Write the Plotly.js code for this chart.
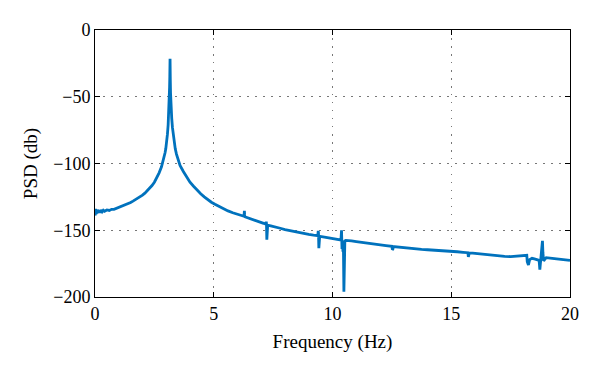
<!DOCTYPE html>
<html>
<head>
<meta charset="utf-8">
<script src="https://cdn.plot.ly/plotly-3.0.1.min.js"></script>
<style>html,body{margin:0;padding:0;background:#fff;}#chart{width:600px;height:374px;}</style>
</head>
<body>
<div id="chart"></div>
<script>
var freq = [0,0.02,0.04,0.06,0.08,0.1,0.13,0.16,0.2,0.25,0.3,0.35,0.4,0.5,0.6,0.7,0.8,0.9,1.0,1.1,1.2,1.3,1.4,1.5,1.6,1.7,1.8,1.9,2.0,2.1,2.2,2.3,2.4,2.5,2.6,2.65,2.7,2.8,2.85,2.9,2.95,2.98,3.02,3.05,3.08,3.10,3.12,3.13,3.14,3.15,3.16,3.165,3.17,3.18,3.19,3.21,3.23,3.26,3.3,3.34,3.38,3.43,3.48,3.58,3.72,3.87,4.0,4.15,4.3,4.45,4.6,4.75,4.9,5.05,5.2,5.4,5.6,5.8,6.0,6.15,6.27,6.28,6.29,6.30,6.31,6.45,6.6,6.8,7.0,7.1,7.2,7.21,7.22,7.235,7.25,7.27,7.4,7.6,7.8,8.0,8.25,8.5,8.75,9.0,9.2,9.38,9.40,9.41,9.425,9.44,9.46,9.6,9.8,10.0,10.2,10.33,10.36,10.38,10.40,10.42,10.44,10.46,10.48,10.50,10.52,10.56,10.6,10.8,11.0,11.25,11.5,11.75,12.0,12.25,12.5,12.52,12.54,12.56,12.75,13.0,13.25,13.5,13.75,14.0,14.25,14.5,14.75,15.0,15.25,15.5,15.7,15.72,15.74,15.76,15.9,16.0,16.25,16.5,16.75,17.0,17.25,17.5,17.75,18.0,18.15,18.18,18.2,18.25,18.3,18.4,18.5,18.6,18.7,18.73,18.75,18.78,18.82,18.84,18.86,18.89,18.95,19.0,19.25,19.5,19.75,20.0];
var psd = [-139,-134,-138,-135,-137.5,-134.5,-137,-135,-136.8,-134.8,-136.2,-135,-135.8,-134.8,-135.2,-134.3,-134.3,-133.6,-133,-132.2,-131.5,-130.7,-130,-129.2,-128.2,-127.2,-126.2,-125,-123.7,-122.2,-120.5,-118.6,-116.5,-114,-111,-109.2,-107,-102.5,-99.5,-96,-92,-89,-84,-78,-71,-64,-56,-50,-43,-35,-21.5,-28,-37,-47,-53,-60,-66,-73,-80,-85,-89,-93,-96.5,-101.5,-106,-110.5,-114,-117,-120,-122.6,-125,-127.2,-129,-130.5,-132,-133.8,-135.5,-136.9,-138,-138.9,-139.5,-138,-135.5,-138.5,-139.9,-140.7,-141.5,-142.8,-144,-144.8,-145.5,-143.5,-145,-157,-151,-146.2,-146.8,-147.5,-148.5,-149.5,-150.5,-151.5,-152.3,-153,-153.6,-154,-150.5,-152,-163.5,-156,-154.6,-155,-155.5,-156,-156.6,-157.2,-156,-150,-164,-158,-166,-163,-196,-170,-158,-157.6,-157.6,-158,-158.5,-159.2,-159.8,-160.4,-161,-161.5,-162,-164.5,-164.2,-162.2,-162.6,-163,-163.5,-164,-164.3,-164.6,-164.8,-165.1,-165.4,-165.8,-166.1,-166.5,-166.8,-170,-169,-167,-167.2,-167.4,-167.8,-168.3,-168.7,-169.2,-169.5,-169.8,-169.5,-168.8,-168.5,-168.8,-173.5,-176,-172,-171,-171.5,-171.8,-172.5,-179.5,-176,-172,-165,-158,-167,-173,-171.5,-170.5,-171,-171.5,-172,-172.5];

var trace = {
  x: freq, y: psd, type: 'scatter', mode: 'lines',
  line: {color: '#0072BD', width: 2.8},
  hoverinfo: 'skip'
};

var tickFont = {family: '"Liberation Serif", "DejaVu Serif", serif', size: 18, color: '#000'};
var titleFont = {family: '"Liberation Serif", "DejaVu Serif", serif', size: 19, color: '#000'};

var layout = {
  width: 600, height: 374,
  margin: {l: 95, r: 30, t: 30, b: 77},
  paper_bgcolor: '#fff', plot_bgcolor: '#fff',
  showlegend: false,
  font: tickFont,
  xaxis: {
    range: [0, 20], tickmode: 'array', tickvals: [0,5,10,15,20],
    ticks: 'inside', ticklen: 5, tickcolor: '#000',
    showline: true, linecolor: '#000', linewidth: 1, mirror: 'ticks',
    showgrid: true, gridcolor: '#777', griddash: '1.5px,6.5px', gridwidth: 1.2,
    zeroline: false,
    tickfont: tickFont,
    title: {text: 'Frequency (Hz)', font: titleFont, standoff: 12}
  },
  yaxis: {
    range: [-200, 0], tickmode: 'array', tickvals: [-200,-150,-100,-50,0],
    ticks: 'inside', ticklen: 5, tickcolor: '#000',
    showline: true, linecolor: '#000', linewidth: 1, mirror: 'ticks',
    showgrid: true, gridcolor: '#777', griddash: '1.5px,6.5px', gridwidth: 1.2,
    zeroline: false,
    tickfont: tickFont,
    title: {text: 'PSD (db)', font: titleFont, standoff: 10}
  }
};

Plotly.newPlot('chart', [trace], layout, {staticPlot: true, displayModeBar: false});
</script>
</body>
</html>
